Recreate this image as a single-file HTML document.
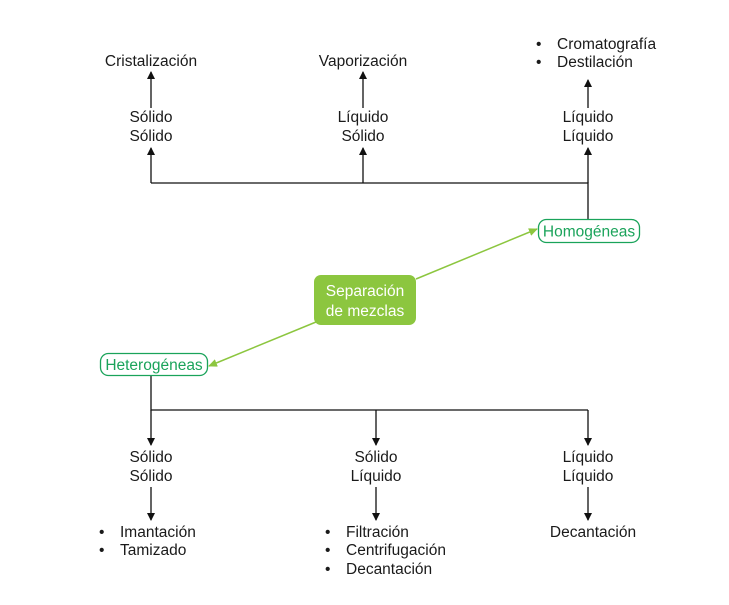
<!DOCTYPE html>
<html><head><meta charset="utf-8"><style>
html,body{margin:0;padding:0;background:#fff;}
svg text{font-family:"Liberation Sans",sans-serif;font-size:15.5px;fill:#1a1a1a;}
</style></head><body>
<svg width="729" height="600" viewBox="0 0 729 600" xmlns="http://www.w3.org/2000/svg">
<defs>
<marker id="a" markerWidth="8" markerHeight="8" refX="7" refY="4" orient="auto" markerUnits="userSpaceOnUse"><path d="M0,0 L8,4 L0,8 z" fill="#111"/></marker>
<marker id="g" markerWidth="9" markerHeight="8" refX="8" refY="4" orient="auto" markerUnits="userSpaceOnUse"><path d="M0,0 L9,4 L0,8 z" fill="#8cc63f"/></marker>
</defs>
<g stroke="#111" stroke-width="1.3" fill="none">
<path d="M151,183 H588 V219"/>
<line x1="151" y1="183" x2="151" y2="148" marker-end="url(#a)"/>
<line x1="363" y1="183" x2="363" y2="148" marker-end="url(#a)"/>
<line x1="588" y1="183" x2="588" y2="148" marker-end="url(#a)"/>
<line x1="151" y1="108" x2="151" y2="72" marker-end="url(#a)"/>
<line x1="363" y1="108" x2="363" y2="72" marker-end="url(#a)"/>
<line x1="588" y1="108" x2="588" y2="80" marker-end="url(#a)"/>
<path d="M151,375 V410 H588"/>
<line x1="151" y1="410" x2="151" y2="445" marker-end="url(#a)"/>
<line x1="376" y1="410" x2="376" y2="445" marker-end="url(#a)"/>
<line x1="588" y1="410" x2="588" y2="445" marker-end="url(#a)"/>
<line x1="151" y1="487" x2="151" y2="520" marker-end="url(#a)"/>
<line x1="376" y1="487" x2="376" y2="520" marker-end="url(#a)"/>
<line x1="588" y1="487" x2="588" y2="520" marker-end="url(#a)"/>
</g>
<g stroke="#8cc63f" stroke-width="1.5">
<line x1="416" y1="279" x2="537" y2="229" marker-end="url(#g)"/>
<line x1="316" y1="322" x2="209" y2="366" marker-end="url(#g)"/>
</g>
<rect x="314" y="275" width="102" height="50" rx="7" fill="#8cc63f"/>
<text x="365" y="296" text-anchor="middle" style="fill:#fff">Separación</text>
<text x="365" y="316" text-anchor="middle" style="fill:#fff">de mezclas</text>
<rect x="538.5" y="219.5" width="101" height="23" rx="8" fill="#fff" stroke="#1aa35a" stroke-width="1.3"/>
<text x="589" y="236.5" text-anchor="middle" style="fill:#1aa35a">Homogéneas</text>
<rect x="100.5" y="353.5" width="107" height="22" rx="8" fill="#fff" stroke="#1aa35a" stroke-width="1.3"/>
<text x="154" y="370" text-anchor="middle" style="fill:#1aa35a">Heterogéneas</text>
<g text-anchor="middle">
<text x="151" y="66">Cristalización</text>
<text x="363" y="66">Vaporización</text>
<text x="151" y="122">Sólido</text><text x="151" y="141">Sólido</text>
<text x="363" y="122">Líquido</text><text x="363" y="141">Sólido</text>
<text x="588" y="122">Líquido</text><text x="588" y="141">Líquido</text>
<text x="151" y="462">Sólido</text><text x="151" y="481">Sólido</text>
<text x="376" y="462">Sólido</text><text x="376" y="481">Líquido</text>
<text x="588" y="462">Líquido</text><text x="588" y="481">Líquido</text>
<text x="593" y="537">Decantación</text>
</g>
<text x="536" y="49">•</text><text x="557" y="49">Cromatografía</text>
<text x="536" y="67">•</text><text x="557" y="67">Destilación</text>
<text x="99" y="537">•</text><text x="120" y="537">Imantación</text>
<text x="99" y="555">•</text><text x="120" y="555">Tamizado</text>
<text x="325" y="537">•</text><text x="346" y="537">Filtración</text>
<text x="325" y="555">•</text><text x="346" y="555">Centrifugación</text>
<text x="325" y="574">•</text><text x="346" y="574">Decantación</text>
</svg>
</body></html>
